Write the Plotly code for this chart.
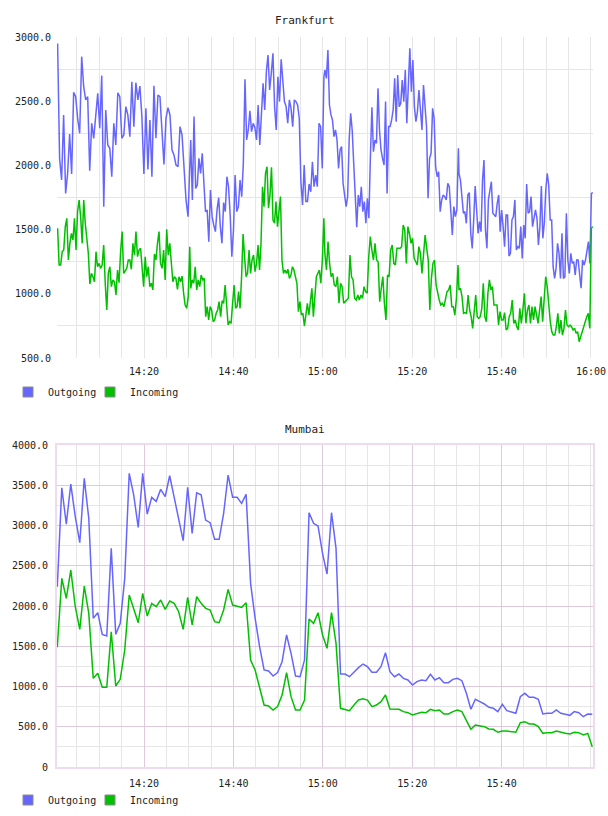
import plotly.graph_objects as go
import pandas as pd

DAY = "2024-01-01 "
BLUE = "#6666ff"
GREEN = "#00c000"

# ---------------- Frankfurt (samples ~every 30 s), read in four time segments ----------------
fra_seg_times_out = [("14:00:40", "14:30:18"), ("14:30:27", "15:00:15"),
                     ("15:00:28", "15:30:20"), ("15:30:28", "16:00:25")]
fra_seg_times_in = [("14:00:40", "14:30:14"), ("14:30:27", "15:00:14"),
                    ("15:00:28", "15:30:15"), ("15:30:28", "16:00:25")]

fra_out_1 = [2950, 2055, 1886, 2393, 1782, 1938, 2245, 1933, 2569, 2535, 2366, 2250, 2847, 2613,
             2510, 2535, 1959, 2328, 2211, 2419, 2561, 2289, 2699, 1679, 2432, 2159, 2133, 1912,
             2328, 2159, 2566, 2535, 2211, 2237, 2458, 2393, 2224, 2652, 2302, 2644, 2510, 2618,
             2380, 1933, 2445, 1969, 2354, 1912, 2621, 2211, 2548, 2535, 2242, 2008, 2366, 2450,
             2393, 2120, 2081, 2003, 1990, 2302, 2237, 1964, 1730, 1601, 2190]
fra_out_2 = [2198, 1731, 2380, 1821, 1847, 2055, 1938, 2094, 1886, 1640, 1653, 1406, 1808, 1601,
             1536, 1484, 1653, 1749, 1523, 1393, 1710, 1640, 1912, 1834, 1614, 1289, 1497, 1925,
             1640, 1679, 1886, 1757, 2016, 2670, 2198, 2276, 2426, 2263, 2328, 2296, 2198, 2470,
             2159, 2445, 2639, 2432, 2730, 2860, 2587, 2717, 2873, 2458, 2276, 2691, 2497, 2826,
             2665, 2497, 2458, 2328, 2510, 2445, 2302, 2510, 2497, 2470, 2367, 1873, 1692, 2003,
             1718, 1718, 1855, 1795, 2029, 1834, 1925, 1834, 2328, 2302, 1977, 2691]
fra_out_3 = [2743, 2678, 2899, 2470, 2393, 2354, 2224, 2276, 2198, 1977, 2120, 2146, 1860, 1757,
             1679, 1757, 2198, 2406, 2276, 2016, 1757, 1518, 1770, 1679, 1834, 1640, 1718, 1549,
             1744, 1588, 2068, 2452, 2107, 2198, 2172, 2600, 2276, 2120, 2055, 2003, 2497, 1782,
             2302, 2302, 2354, 2432, 2678, 2341, 2704, 2458, 2484, 2665, 2497, 2743, 2328, 2665,
             2912, 2574, 2821, 2458, 2341, 2419, 2587, 2432, 2276, 2626, 2445, 2302, 1744, 2055,
             2094, 2445, 2367, 1990, 1912, 1951, 1640, 1731, 1770, 1757, 1731, 1860, 1834, 1679,
             1458, 1679, 1601, 1653, 2133]
fra_out_4 = [1938, 1886, 1757, 1627, 1640, 1549, 1770, 1788, 1471, 1354, 1575, 1840, 1653, 1471,
             1562, 1484, 1886, 2042, 1497, 1354, 1731, 1808, 1873, 1627, 1614, 1601, 1705, 1770,
             1484, 1653, 1523, 1367, 1614, 1614, 1294, 1315, 1575, 1601, 1731, 1341, 1367, 1354,
             1523, 1276, 1536, 1432, 1855, 1627, 1640, 1757, 1523, 1601, 1653, 1588, 1380, 1523,
             1840, 1432, 1549, 1808, 1938, 1847, 1575, 1575, 1211, 1120, 1198, 1393, 1315, 1120,
             1471, 1120, 1133, 1627, 1263, 1159, 1315, 1237, 1250, 1146, 1263, 1263, 1146, 1043,
             1263, 1224, 1263, 1354, 1406, 1237, 1782, 1788]

fra_in_1 = [1510, 1224, 1224, 1328, 1341, 1523, 1588, 1263, 1393, 1471, 1419, 1588, 1341, 1640,
            1730, 1601, 1393, 1730, 1549, 1406, 1315, 1076, 1159, 1133, 1094, 1328, 1211, 1237,
            1198, 1224, 1380, 1082, 874, 1159, 1211, 1056, 1108, 1094, 991, 1185, 1087, 1328,
            1484, 1159, 1185, 1198, 1263, 1263, 1191, 1393, 1302, 1484, 1289, 1341, 1354, 1159,
            1056, 1289, 1133, 1211, 1056, 1082, 1030, 1310, 1263, 1393, 1484, 1237, 1198, 1341,
            1108, 1502, 1302, 1393, 1237, 1094, 1133, 1120, 1035, 1133, 1094, 1138, 1004, 913,
            887, 978, 1367]
fra_in_2 = [1042, 1108, 1082, 1211, 1030, 1108, 1056, 1146, 1108, 1120, 822, 900, 796, 900, 874,
            783, 796, 848, 874, 939, 822, 946, 926, 1069, 900, 757, 783, 770, 926, 1069, 887, 900,
            1017, 887, 1133, 1466, 1289, 1133, 1159, 1341, 1159, 1263, 1302, 1172, 1237, 1380,
            1185, 1393, 1834, 1679, 1938, 1990, 1666, 1770, 1985, 1575, 1549, 1718, 1523, 1627,
            1757, 1263, 1159, 1185, 1159, 1191, 1120, 1146, 1211, 1185, 1120, 1082, 861, 939, 835,
            848, 749, 822, 926, 835, 946, 1043, 822, 978, 1133, 1159, 1185, 1082, 1263, 1588]
fra_in_3 = [1315, 1185, 1406, 1237, 1133, 1159, 1069, 1056, 1133, 926, 1082, 1056, 926, 939, 952,
            965, 1302, 1133, 1108, 965, 952, 991, 952, 991, 965, 1056, 1017, 1004, 1289, 1445,
            1341, 1263, 1393, 1263, 1250, 939, 1043, 1133, 926, 796, 1146, 1133, 1341, 1380, 1237,
            1224, 1354, 1354, 1354, 1367, 1536, 1497, 1237, 1523, 1471, 1393, 1432, 1276, 1250,
            1224, 1367, 1315, 1159, 1289, 1458, 1354, 1263, 874, 1120, 1237, 1263, 1069, 1004, 952,
            913, 926, 900, 952, 1017, 1030, 1069, 900, 900, 835, 965, 1224]
fra_in_4 = [1030, 1043, 978, 848, 853, 848, 991, 874, 822, 731, 848, 991, 822, 809, 822, 887, 1082,
            822, 783, 1004, 1108, 1030, 1056, 913, 913, 913, 757, 861, 796, 796, 853, 718, 731, 822,
            848, 952, 770, 796, 744, 718, 887, 770, 874, 1004, 770, 874, 913, 770, 900, 796, 900,
            848, 770, 874, 978, 783, 952, 1133, 1056, 900, 783, 705, 679, 679, 744, 848, 692, 796,
            679, 731, 874, 757, 744, 757, 744, 718, 731, 692, 705, 627, 666, 705, 744, 796, 822,
            848, 731, 1510, 1523]

# ---------------- Mumbai (samples ~every minute) ----------------
mum_time_span = ("14:00:36", "16:00:17")
mum_out = [2240, 3469, 3018, 3515, 3109, 2786, 3585, 3089, 1847, 1917, 1648, 1627, 2716, 1648,
           1785, 2343, 3648, 3378, 2977, 3648, 3142, 3350, 3300, 3449, 3358, 3618, 3350, 3068,
           2811, 3474, 2903, 3407, 3382, 3068, 3035, 2828, 2828, 3151, 3627, 3350, 3350, 3275,
           3387, 2281, 1850, 1494, 1205, 1192, 1130, 1172, 1308, 1640, 1412, 1130, 1122, 1330,
           3159, 3027, 2994, 2654, 2397, 3159, 2716, 1155, 1155, 1122, 1184, 1234, 1279, 1246,
           1176, 1176, 1246, 1420, 1184, 1122, 1155, 1101, 1081, 1018, 1060, 1081, 1072, 1151,
           1081, 1110, 1047, 1047, 1089, 1101, 1072, 915, 717, 841, 812, 783, 741, 729, 688, 779,
           700, 688, 667, 873, 915, 865, 865, 841, 658, 667, 667, 708, 667, 654, 642, 688, 675,
           625, 658, 654]
mum_in = [1487, 2343, 2095, 2447, 1991, 1710, 2248, 1909, 1101, 1164, 990, 990, 1680, 1006, 1089,
          1453, 2136, 1971, 1792, 2157, 1875, 2033, 1991, 2074, 1958, 2062, 2033, 1929, 1710, 2107,
          1764, 2115, 2033, 1971, 1950, 1805, 1792, 1950, 2207, 2012, 2000, 1983, 2041, 1329, 1205,
          977, 770, 758, 708, 750, 894, 1171, 874, 708, 708, 832, 1838, 1784, 1917, 1640, 1474,
          1917, 1536, 729, 717, 700, 770, 832, 849, 832, 750, 770, 812, 894, 720, 720, 717, 688,
          675, 646, 667, 679, 675, 717, 700, 708, 658, 658, 688, 708, 688, 584, 468, 522, 509, 501,
          472, 468, 431, 447, 447, 439, 431, 551, 563, 534, 534, 501, 418, 427, 427, 447, 431, 418,
          410, 431, 427, 398, 418, 252]

# ---------------- axis labels ----------------
x_range = ["14:00:32", "16:00:27"]
fra_xticks = ["14:20", "14:40", "15:00", "15:20", "15:40", "16:00"]
mum_xticks = ["14:20", "14:40", "15:00", "15:20", "15:40"]
fra_yticks = [500, 1000, 1500, 2000, 2500, 3000]
fra_yticktext = ["500.0", "1000.0", "1500.0", "2000.0", "2500.0", "3000.0"]
mum_yticks = [0, 500, 1000, 1500, 2000, 2500, 3000, 3500, 4000]
mum_yticktext = ["0", "500.0", "1000.0", "1500.0", "2000.0", "2500.0", "3000.0", "3500.0", "4000.0"]
series_names = ["Outgoing", "Incoming"]


def seg_series(segments, spans):
    xs, ys = [], []
    for vals, (a, b) in zip(segments, spans):
        t = pd.date_range(DAY + a, DAY + b, periods=len(vals))
        xs.extend(list(t))
        ys.extend(vals)
    return xs, ys


fo_x, fo_y = seg_series([fra_out_1, fra_out_2, fra_out_3, fra_out_4], fra_seg_times_out)
fi_x, fi_y = seg_series([fra_in_1, fra_in_2, fra_in_3, fra_in_4], fra_seg_times_in)
mum_t = list(pd.date_range(DAY + mum_time_span[0], DAY + mum_time_span[1], periods=len(mum_out)))

W, H = 608, 816
MONO = "DejaVu Sans Mono"
TXT = "#222222"


def px_x(p):
    return p / W


def px_y(p):
    return 1 - p / H


fig = go.Figure()
lw = 1.5
fig.add_trace(go.Scatter(x=fo_x, y=fo_y, mode="lines", line=dict(color=BLUE, width=lw),
                         xaxis="x", yaxis="y", showlegend=False, hoverinfo="skip"))
fig.add_trace(go.Scatter(x=fi_x, y=fi_y, mode="lines", line=dict(color=GREEN, width=lw),
                         xaxis="x", yaxis="y", showlegend=False, hoverinfo="skip"))
fig.add_trace(go.Scatter(x=mum_t, y=mum_out, mode="lines", line=dict(color=BLUE, width=lw),
                         xaxis="x2", yaxis="y2", showlegend=False, hoverinfo="skip"))
fig.add_trace(go.Scatter(x=mum_t, y=mum_in, mode="lines", line=dict(color=GREEN, width=lw),
                         xaxis="x2", yaxis="y2", showlegend=False, hoverinfo="skip"))

# legend entries (square swatches), one legend box per entry for exact placement
legend_slots = {}
slot = 1
for xa, ya, ypix in (("x", "y", 392), ("x2", "y2", 800)):
    for name, col, xpix in zip(series_names, [BLUE, GREEN], [8, 90]):
        lg = "legend" if slot == 1 else f"legend{slot}"
        legend_slots[lg] = (xpix, ypix)
        fig.add_trace(go.Scatter(x=[None], y=[None], mode="markers", name=name,
                                 marker=dict(symbol="square", size=10, color=col,
                                             line=dict(color="#8a8a8a", width=1)),
                                 xaxis=xa, yaxis=ya, legend=lg, showlegend=True))
        slot += 1

xdom = [px_x(57), px_x(593)]
grid_gray = "#e6e6e6"
grid_purple = "#dfc9df"
tickfont = dict(family=MONO, size=10, color=TXT)

common_x = dict(type="date", range=[DAY + x_range[0], DAY + x_range[1]], domain=xdom,
                tickmode="array", zeroline=False, tickfont=tickfont, ticks="",
                ticklabelstandoff=6)

legend_layout = {}
for lg, (xpix, ypix) in legend_slots.items():
    legend_layout[lg] = dict(orientation="h", xanchor="left", yanchor="middle",
                             x=px_x(xpix), y=px_y(ypix),
                             font=dict(family=MONO, size=10, color=TXT),
                             bgcolor="rgba(0,0,0,0)", itemwidth=30,
                             itemclick=False, itemdoubleclick=False)

fig.update_layout(
    width=W, height=H,
    margin=dict(l=0, r=0, t=0, b=0, autoexpand=False),
    paper_bgcolor="white", plot_bgcolor="white",
    xaxis=dict(**common_x, anchor="y",
               tickvals=[DAY + t for t in fra_xticks], ticktext=fra_xticks,
               showgrid=True, gridcolor=grid_gray, gridwidth=1,
               minor=dict(tick0=DAY + "14:00", dtick=300000, showgrid=True,
                          gridcolor=grid_gray, gridwidth=1),
               showline=False),
    yaxis=dict(domain=[px_y(358), px_y(37)], anchor="x", range=[500, 3000],
               tickmode="array", tickvals=fra_yticks, ticktext=fra_yticktext,
               showgrid=False, zeroline=False, showline=False, tickfont=tickfont, ticks="",
               ticklabelstandoff=5,
               minor=dict(tick0=750, dtick=500, showgrid=True, gridcolor=grid_gray, gridwidth=1)),
    xaxis2=dict(**common_x, anchor="y2",
                tickvals=[DAY + t for t in mum_xticks], ticktext=mum_xticks,
                showgrid=True, gridcolor=grid_purple, gridwidth=1,
                minor=dict(tick0=DAY + "14:00", dtick=300000, showgrid=True,
                           gridcolor=grid_gray, gridwidth=1),
                showline=True, linecolor="#eedcee", linewidth=2, mirror=True),
    yaxis2=dict(domain=[px_y(767), px_y(445)], anchor="x2", range=[0, 4000],
                tickmode="array", tickvals=mum_yticks, ticktext=mum_yticktext,
                showgrid=True, gridcolor=grid_purple, gridwidth=1, zeroline=False,
                tickfont=tickfont, ticks="", ticklabelstandoff=5,
                showline=True, linecolor="#eedcee", linewidth=2, mirror=True,
                minor=dict(tick0=250, dtick=250, showgrid=True, gridcolor=grid_gray, gridwidth=1)),
    annotations=[
        dict(text="Frankfurt", x=px_x(305), y=px_y(20), xref="paper", yref="paper",
             showarrow=False, font=dict(family=MONO, size=11, color=TXT),
             xanchor="center", yanchor="middle"),
        dict(text="Mumbai", x=px_x(305), y=px_y(429), xref="paper", yref="paper",
             showarrow=False, font=dict(family=MONO, size=11, color=TXT),
             xanchor="center", yanchor="middle"),
    ],
    **legend_layout,
)

fig.write_html("out.html")
